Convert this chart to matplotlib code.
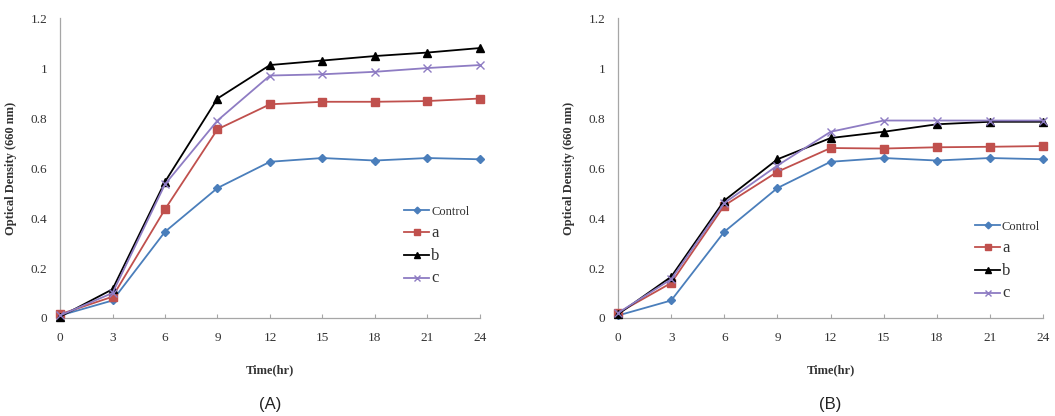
import numpy as np
import matplotlib.pyplot as plt
from matplotlib.lines import Line2D

time_hr = [0, 3, 6, 9, 12, 15, 18, 21, 24]
series_names = ['Control', 'a', 'b', 'c']

# panel A
a_control = [0.01, 0.07, 0.345, 0.52, 0.625, 0.64, 0.63, 0.64, 0.635]
a_a = [0.015, 0.085, 0.435, 0.755, 0.855, 0.865, 0.865, 0.868, 0.878]
a_b = [0.005, 0.115, 0.545, 0.878, 1.012, 1.03, 1.048, 1.062, 1.08]
a_c = [0.01, 0.10, 0.535, 0.79, 0.97, 0.975, 0.985, 1.0, 1.012]

# panel B
b_control = [0.01, 0.07, 0.345, 0.52, 0.625, 0.64, 0.63, 0.64, 0.635]
b_a = [0.02, 0.14, 0.45, 0.585, 0.68, 0.678, 0.683, 0.685, 0.688]
b_b = [0.015, 0.165, 0.47, 0.635, 0.72, 0.745, 0.775, 0.785, 0.785]
b_c = [0.02, 0.155, 0.46, 0.61, 0.745, 0.79, 0.79, 0.79, 0.79]

styles = {
    'Control': dict(color='#4a7ebb', marker='D', markersize=4),
    'a': dict(color='#c0504d', marker='s', markersize=5.5),
    'b': dict(color='black', marker='^', markersize=5.5),
    'c': dict(color='#8e7cc3', marker='x', markersize=5.5, markeredgewidth=1.0),
}

serif = 'Liberation Serif'
fig = plt.figure(figsize=(10.55, 4.16), dpi=100)


def draw_panel(rect, data, label, legend_pos):
    ax = fig.add_axes(rect)
    for name, vals in zip(series_names, data):
        ax.plot(time_hr, vals, linewidth=1.3, clip_on=False, zorder=3,
                **styles[name])
    ax.set_xlim(0, 24)
    ax.set_ylim(0, 1.2)
    ax.set_xticks(time_hr)
    ax.set_yticks([0, 0.2, 0.4, 0.6, 0.8, 1.0, 1.2])
    ax.set_yticklabels(['0', '0.2', '0.4', '0.6', '0.8', '1', '1.2'])
    for s in ['top', 'right']:
        ax.spines[s].set_visible(False)
    for s in ['left', 'bottom']:
        ax.spines[s].set_color('#a6a6a6')
        ax.spines[s].set_linewidth(0.9)
    ax.tick_params(axis='both', colors='#a6a6a6', labelcolor='#333333',
                   labelsize=9.5, width=0.8)
    ax.tick_params(axis='x', direction='in', length=3, pad=10)
    ax.tick_params(axis='y', length=0, pad=9)
    for t in ax.get_xticklabels() + ax.get_yticklabels():
        t.set_fontfamily(serif)
    ax.set_xlabel('Time(hr)', fontfamily=serif, fontweight='bold',
                  fontsize=9, color='#333333', labelpad=15)
    ax.set_ylabel('Optical Density (660 nm)', fontfamily=serif,
                  fontweight='bold', fontsize=9, color='#333333',
                  labelpad=10)
    ax.text(0.5, -0.287, label, transform=ax.transAxes, ha='center',
            va='center', fontsize=12, fontfamily='Liberation Sans',
            color='#222222')
    handles = [Line2D([], [], linewidth=1.3, **styles[n]) for n in series_names]
    leg = ax.legend(handles, series_names, loc='upper left',
                    bbox_to_anchor=legend_pos, frameon=False,
                    handlelength=2.0, handletextpad=0.15, labelspacing=0.55,
                    markerscale=0.85, borderpad=0,
                    prop={'family': serif, 'size': 9})
    for t in leg.get_texts()[1:]:
        t.set_fontsize(12)
    for t in leg.get_texts():
        t.set_color('#333333')
    return ax


draw_panel([0.0569, 0.2356, 0.398, 0.721],
           [a_control, a_a, a_b, a_c], '(A)', (0.805, 0.395))
draw_panel([0.5858, 0.2356, 0.403, 0.721],
           [b_control, b_a, b_b, b_c], '(B)', (0.825, 0.345))

fig.savefig('out.png', dpi=100)
